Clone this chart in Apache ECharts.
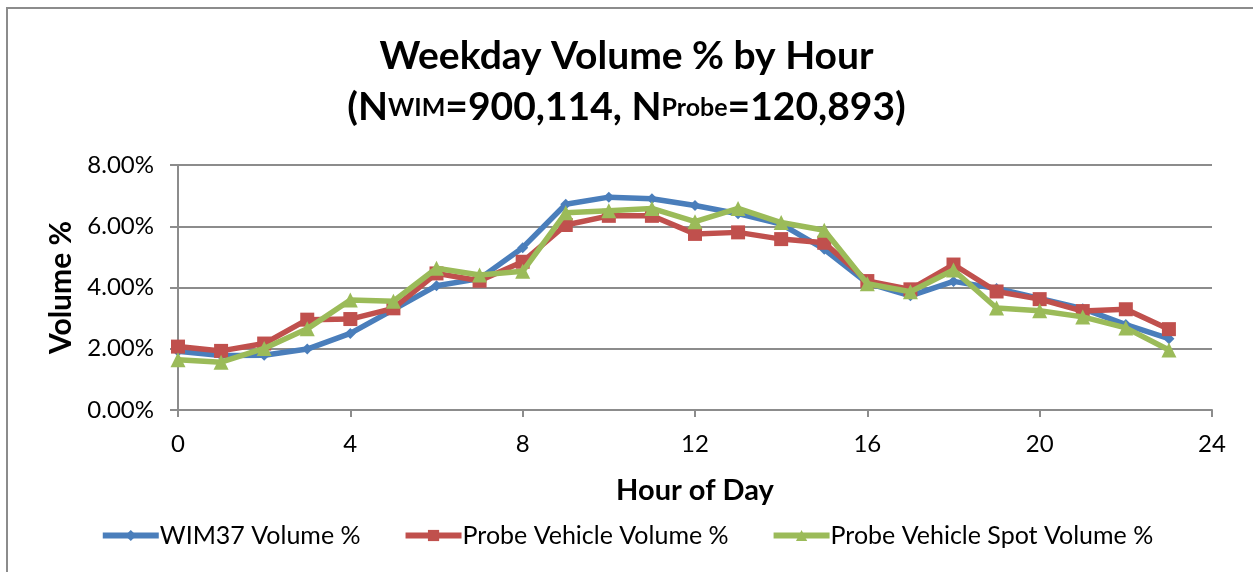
<!DOCTYPE html>
<html>
<head>
<meta charset="utf-8">
<script src="https://cdn.jsdelivr.net/npm/echarts@6/dist/echarts.min.js"></script>
<style>
  html, body { margin: 0; padding: 0; background: #fff; overflow: hidden; }
  #chart { width: 1253px; height: 572px; position: relative; }
  .frame {
    position: absolute; left: 6px; top: 7px; width: 1247px; height: 565px;
    border-left: 2px solid #8c8c8c; border-top: 2px solid #8c8c8c;
    box-sizing: border-box; pointer-events: none;
  }
</style>
</head>
<body>
<div id="chart"></div>
<div class="frame"></div>
<script>
// hour of day 0..23
var hours = [0, 1, 2, 3, 4, 5, 6, 7, 8, 9, 10, 11, 12, 13, 14, 15, 16, 17, 18, 19, 20, 21, 22, 23]
// volume % per hour
var wim37 = [1.92, 1.78, 1.79, 1.99, 2.50, 3.28, 4.06, 4.29, 5.30, 6.72, 6.95, 6.90, 6.68, 6.41, 6.07, 5.25, 4.14, 3.73, 4.20, 3.97, 3.64, 3.31, 2.79, 2.33]
var probeVehicle = [2.07, 1.93, 2.17, 2.95, 2.97, 3.32, 4.46, 4.22, 4.84, 6.04, 6.34, 6.34, 5.75, 5.80, 5.58, 5.46, 4.21, 3.94, 4.75, 3.87, 3.62, 3.23, 3.29, 2.64]
var probeSpot = [1.64, 1.56, 2.01, 2.65, 3.59, 3.55, 4.63, 4.41, 4.53, 6.44, 6.51, 6.58, 6.15, 6.58, 6.12, 5.87, 4.12, 3.86, 4.57, 3.33, 3.24, 3.04, 2.68, 1.96]
var seriesNames = ['WIM37 Volume %', 'Probe Vehicle Volume %', 'Probe Vehicle Spot Volume %']

function pairs(vals) {
  return hours.map(function (h, i) { return [h, vals[i]] })
}

var font = 'Lato, "Open Sans", sans-serif'
var chart = echarts.init(document.getElementById('chart'))

chart.setOption({
  animation: false,
  backgroundColor: '#fff',
  textStyle: { fontFamily: font, color: '#000' },
  title: {
    text: 'Weekday Volume % by Hour\n{p|(N}{s|WIM}{p|=900,114, N}{s|Probe}{p|=120,893)}',
    left: 'center',
    top: 26,
    textStyle: {
      fontFamily: font, fontSize: 39, fontWeight: 'bold', color: '#000', lineHeight: 51,
      rich: {
        p: { fontFamily: font, fontSize: 39, fontWeight: 'bold', color: '#000', lineHeight: 51 },
        s: { fontFamily: font, fontSize: 25, fontWeight: 'bold', color: '#000', lineHeight: 51, padding: [0, 0, 0, 0] }
      }
    }
  },
  grid: { left: 178, right: 41, top: 165, bottom: 162 },
  legend: {
    bottom: 19,
    left: 'center',
    itemWidth: 56,
    itemHeight: 14,
    itemGap: 42,
    lineStyle: { width: 6 },
    textStyle: { fontFamily: font, fontSize: 25, color: '#000', padding: [0, 0, 0, -4] },
    data: seriesNames
  },
  xAxis: {
    type: 'value',
    min: 0,
    max: 24,
    interval: 4,
    name: 'Hour of Day',
    nameLocation: 'middle',
    nameGap: 66,
    nameTextStyle: { fontFamily: font, fontSize: 29, fontWeight: 'bold', color: '#000' },
    axisLine: { show: true, lineStyle: { color: '#8c8c8c', width: 2 } },
    axisTick: { show: true, length: 7, lineStyle: { color: '#8c8c8c', width: 2 } },
    axisLabel: { fontFamily: font, fontSize: 24, color: '#000', margin: 22 },
    splitLine: { show: false }
  },
  yAxis: {
    type: 'value',
    min: 0,
    max: 8,
    interval: 2,
    name: 'Volume %',
    nameLocation: 'middle',
    nameGap: 101,
    nameTextStyle: { fontFamily: font, fontSize: 30, fontWeight: 'bold', color: '#000' },
    axisLine: { show: true, lineStyle: { color: '#8c8c8c', width: 2 } },
    axisTick: { show: true, length: 8, lineStyle: { color: '#8c8c8c', width: 2 } },
    axisLabel: {
      fontFamily: font, fontSize: 24, color: '#000', margin: 24,
      formatter: function (v) { return v.toFixed(2) + '%' }
    },
    splitLine: { show: true, lineStyle: { color: '#8c8c8c', width: 2 } }
  },
  series: [
    {
      name: seriesNames[0],
      type: 'line',
      data: pairs(wim37),
      symbol: 'diamond',
      symbolSize: 11,
      color: '#4a7ebb',
      lineStyle: { width: 5.5, color: '#4a7ebb' },
      itemStyle: { color: '#4a7ebb' },
      z: 2
    },
    {
      name: seriesNames[1],
      type: 'line',
      data: pairs(probeVehicle),
      symbol: 'rect',
      symbolSize: 14,
      color: '#c0504d',
      lineStyle: { width: 5.5, color: '#c0504d' },
      itemStyle: { color: '#c0504d' },
      z: 3
    },
    {
      name: seriesNames[2],
      type: 'line',
      data: pairs(probeSpot),
      symbol: 'triangle',
      symbolSize: 15,
      color: '#9bbb59',
      lineStyle: { width: 5.5, color: '#9bbb59' },
      itemStyle: { color: '#9bbb59' },
      z: 4
    }
  ]
})
</script>
</body>
</html>
